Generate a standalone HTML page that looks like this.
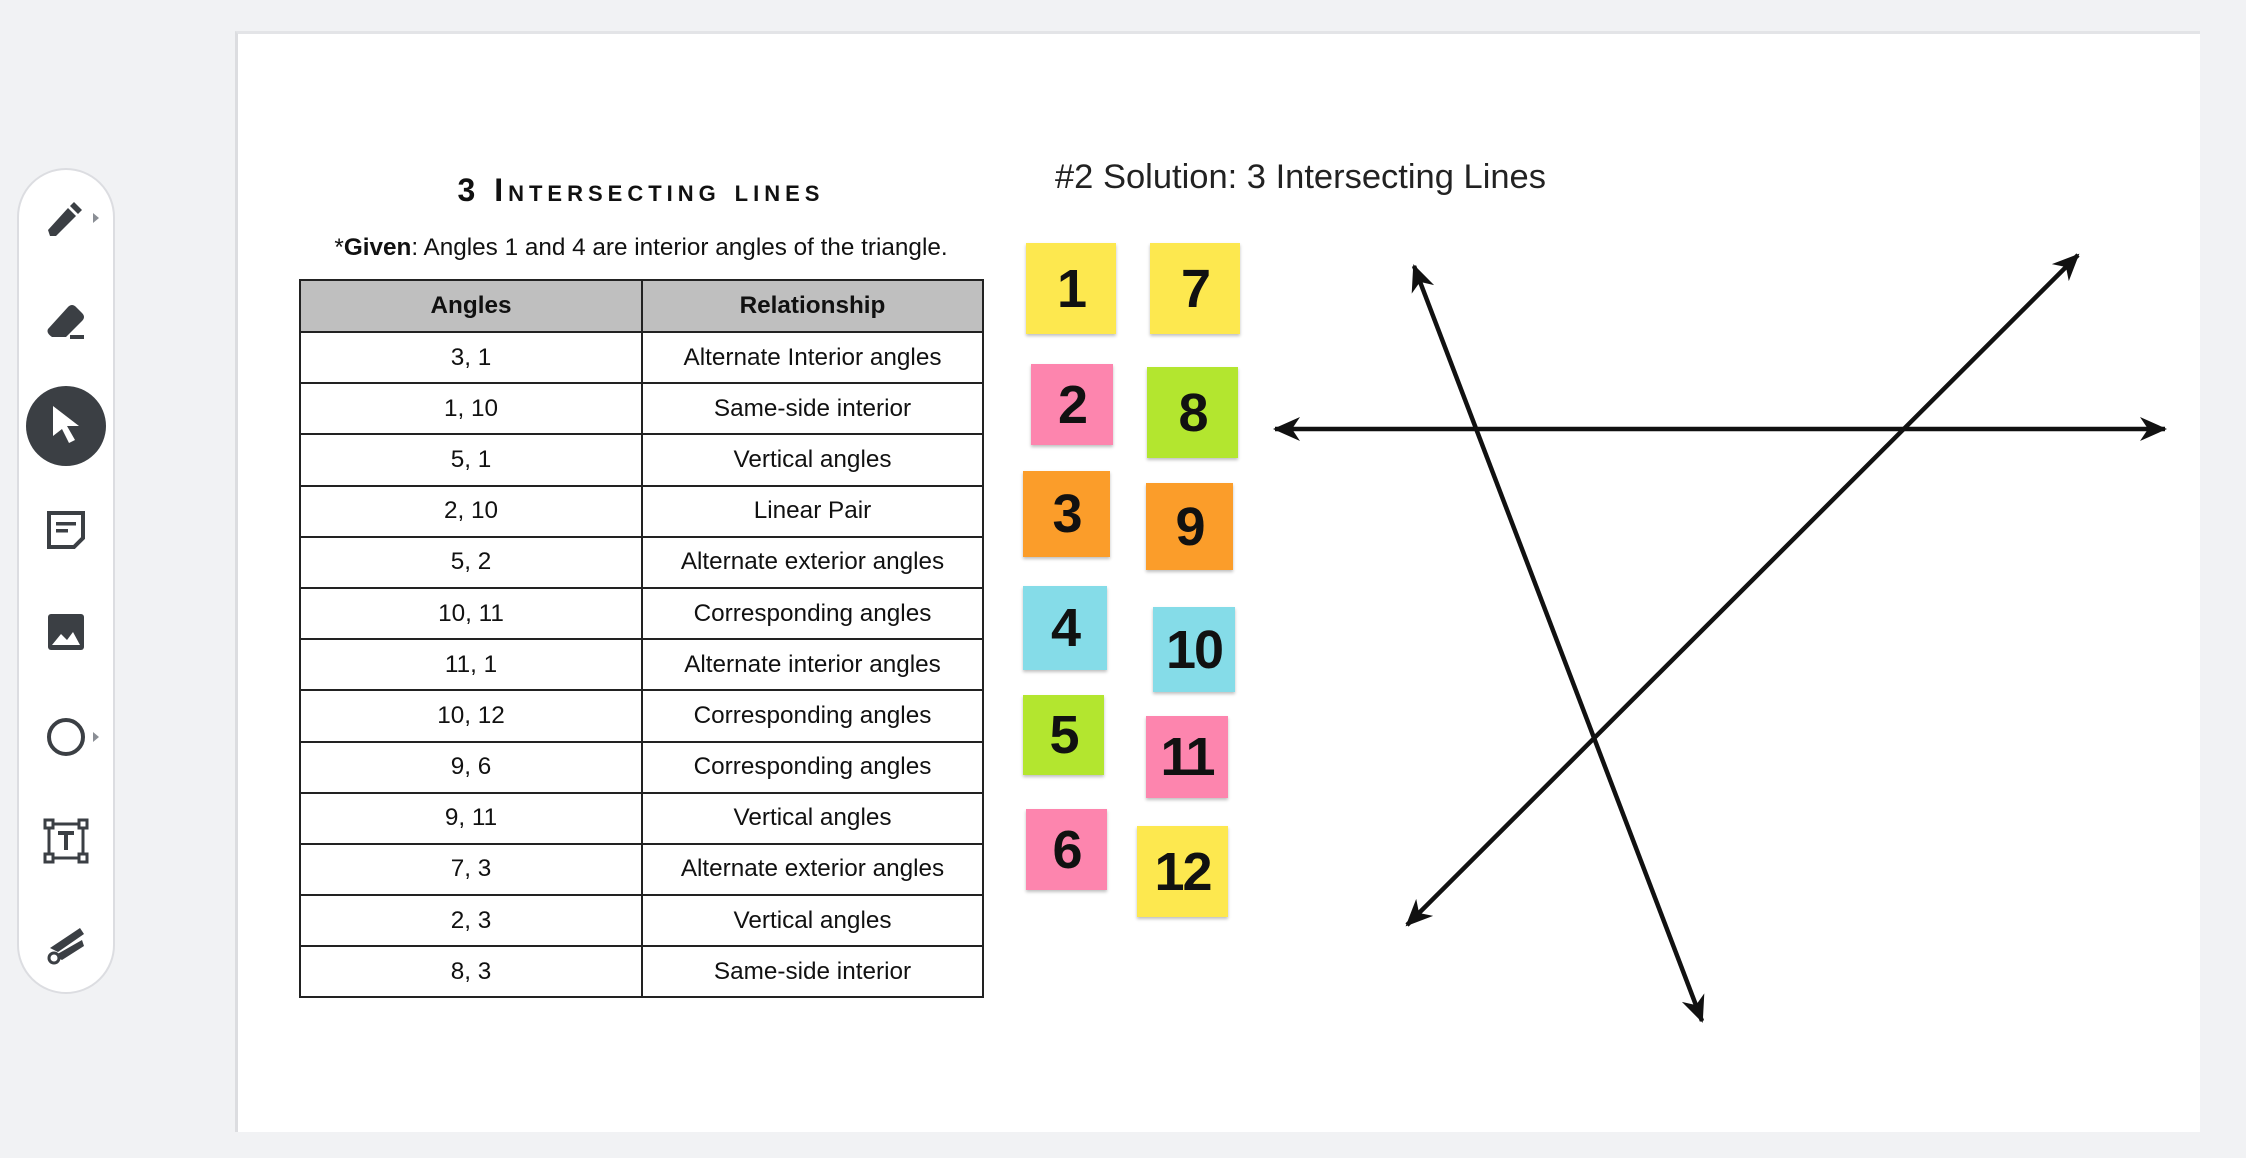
<!DOCTYPE html>
<html><head><meta charset="utf-8"><style>
*{margin:0;padding:0;box-sizing:border-box}
body{width:2246px;height:1158px;background:#f1f2f4;position:relative;overflow:hidden;font-family:"Liberation Sans",Arial,sans-serif}
.canvas{position:absolute;left:235px;top:31px;width:1965px;height:1101px;background:#fff;border-left:3px solid #dcdde0;border-top:3px solid #e3e4e7}
.tb{position:absolute;left:17px;top:168px;width:98px;height:826px;background:#fff;border:2px solid #dcdde1;border-radius:49px}
.ic{position:absolute;left:66px;transform:translate(-50%,-50%)}
.t{position:absolute;font-size:24px;color:#111}
table{position:absolute;left:299px;top:279px;border-collapse:collapse;font-size:24.3px;color:#111}
td,th{border:2px solid #222;text-align:center;height:51.2px;padding:0}
th{background:#bfbfbf;height:52px;font-weight:bold}
.s{position:absolute;display:flex;align-items:center;justify-content:center;font-weight:bold;font-size:54px;color:#111;box-shadow:0 2px 3px rgba(0,0,0,.25);letter-spacing:-2px}
.y{background:#fde84f}.p{background:#fd85ae}.o{background:#fb9d2a}.c{background:#85dce8}.g{background:#b3e62f}
</style></head><body>
<div class="canvas"></div>
<div class="tb"></div>
<svg class="ic" style="top:218px" width="44" height="44" viewBox="0 0 44 44"><path d="M6 40 L4 34 L24 12 L32 20 L12 40 Z M26 10 L30 6 L38 14 L34 18Z" fill="#3b3f44"/></svg>
<div class="ic" style="left:96px;top:218px;width:0;height:0;border-left:6px solid #8a8e95;border-top:5px solid transparent;border-bottom:5px solid transparent"></div>
<svg class="ic" style="top:321px" width="44" height="40" viewBox="0 0 44 40"><path d="M4 28 L24 6 Q28 2 32 6 L38 12 Q42 16 38 20 L22 36 L8 36 Q2 32 4 28Z" fill="#3b3f44"/><rect x="26" y="34" width="14" height="4" fill="#3b3f44"/></svg>
<div class="ic" style="top:426px;width:80px;height:80px;border-radius:50%;background:#3b3f44"></div>
<svg class="ic" style="top:426px" width="34" height="44" viewBox="0 0 34 44"><path d="M4 2 L30 22 L18 22 L26 36 L20 39 L13 25 L4 32Z" fill="#fff"/></svg>
<svg class="ic" style="top:530px" width="44" height="44" viewBox="0 0 44 44"><path d="M5 5 H39 V30 L30 39 H5 Z" fill="none" stroke="#3b3f44" stroke-width="4"/><rect x="12" y="14" width="20" height="3.5" fill="#3b3f44"/><rect x="12" y="21" width="12" height="3.5" fill="#3b3f44"/></svg>
<svg class="ic" style="top:632px" width="40" height="40" viewBox="0 0 40 40"><rect x="2" y="2" width="36" height="36" rx="3" fill="#3b3f44"/><path d="M6 33 L15 22 L21 28 L27 20 L34 33Z" fill="#fff"/></svg>
<div class="ic" style="top:737px;width:38px;height:38px;border:4px solid #3b3f44;border-radius:50%"></div>
<div class="ic" style="left:96px;top:737px;width:0;height:0;border-left:6px solid #8a8e95;border-top:5px solid transparent;border-bottom:5px solid transparent"></div>
<svg class="ic" style="top:841px" width="46" height="46" viewBox="0 0 46 46"><rect x="6" y="6" width="34" height="34" fill="none" stroke="#3b3f44" stroke-width="3"/><rect x="2" y="2" width="8" height="8" fill="#fff" stroke="#3b3f44" stroke-width="3"/><rect x="36" y="2" width="8" height="8" fill="#fff" stroke="#3b3f44" stroke-width="3"/><rect x="2" y="36" width="8" height="8" fill="#fff" stroke="#3b3f44" stroke-width="3"/><rect x="36" y="36" width="8" height="8" fill="#fff" stroke="#3b3f44" stroke-width="3"/><path d="M15 15 H31 M23 15 V32" stroke="#3b3f44" stroke-width="4"/></svg>
<svg class="ic" style="top:944px" width="44" height="44" viewBox="0 0 44 44"><path d="M6 26 L36 6 L40 12 L14 30Z M10 34 L38 18 L40 24 L18 38Z" fill="#3b3f44"/><circle cx="10" cy="36" r="5" fill="#fff" stroke="#3b3f44" stroke-width="3"/></svg>

<div class="t" style="left:300px;width:682px;text-align:center;top:172px;font-size:32px;font-variant:small-caps;letter-spacing:5px;font-weight:bold">3 Intersecting lines</div>
<div class="t" style="left:300px;width:682px;text-align:center;top:234px;font-size:24.3px">*<b>Given</b>: Angles 1 and 4 are interior angles of the triangle.</div>
<table>
<tr><th style="width:342px">Angles</th><th style="width:341px">Relationship</th></tr>
<tr><td>3, 1</td><td>Alternate Interior angles</td></tr>
<tr><td>1, 10</td><td>Same-side interior</td></tr>
<tr><td>5, 1</td><td>Vertical angles</td></tr>
<tr><td>2, 10</td><td>Linear Pair</td></tr>
<tr><td>5, 2</td><td>Alternate exterior angles</td></tr>
<tr><td>10, 11</td><td>Corresponding angles</td></tr>
<tr><td>11, 1</td><td>Alternate interior angles</td></tr>
<tr><td>10, 12</td><td>Corresponding angles</td></tr>
<tr><td>9, 6</td><td>Corresponding angles</td></tr>
<tr><td>9, 11</td><td>Vertical angles</td></tr>
<tr><td>7, 3</td><td>Alternate exterior angles</td></tr>
<tr><td>2, 3</td><td>Vertical angles</td></tr>
<tr><td>8, 3</td><td>Same-side interior</td></tr>
</table>
<div class="t" style="left:1055px;top:158px;font-size:34.5px;color:#222">#2 Solution: 3 Intersecting Lines</div>

<div class="s y" style="left:1026px;top:243px;width:90px;height:91px">1</div>
<div class="s y" style="left:1150px;top:243px;width:90px;height:91px">7</div>
<div class="s p" style="left:1031px;top:364px;width:82px;height:81px">2</div>
<div class="s g" style="left:1147px;top:367px;width:91px;height:91px">8</div>
<div class="s o" style="left:1023px;top:471px;width:87px;height:86px">3</div>
<div class="s o" style="left:1146px;top:483px;width:87px;height:87px">9</div>
<div class="s c" style="left:1023px;top:586px;width:84px;height:84px">4</div>
<div class="s c" style="left:1153px;top:607px;width:82px;height:85px">10</div>
<div class="s g" style="left:1023px;top:695px;width:81px;height:80px">5</div>
<div class="s p" style="left:1146px;top:716px;width:82px;height:82px">11</div>
<div class="s p" style="left:1026px;top:809px;width:81px;height:81px">6</div>
<div class="s y" style="left:1137px;top:826px;width:91px;height:91px">12</div>

<svg style="position:absolute;left:0;top:0" width="2246" height="1158">
<defs>
<marker id="b" markerWidth="30" markerHeight="30" refX="27" refY="15" orient="auto-start-reverse" markerUnits="userSpaceOnUse" viewBox="0 0 30 30"><path d="M2 3 L29 15 L2 27 L10 15Z" fill="#111"/></marker></defs>
<g stroke="#111" stroke-width="4.5" fill="none" marker-start="url(#b)" marker-end="url(#b)">
<line x1="1275" y1="429" x2="2165" y2="429"/>
<line x1="1414" y1="266" x2="1702" y2="1021"/>
<line x1="2078" y1="255" x2="1407" y2="925"/>
</g></svg>
</body></html>
